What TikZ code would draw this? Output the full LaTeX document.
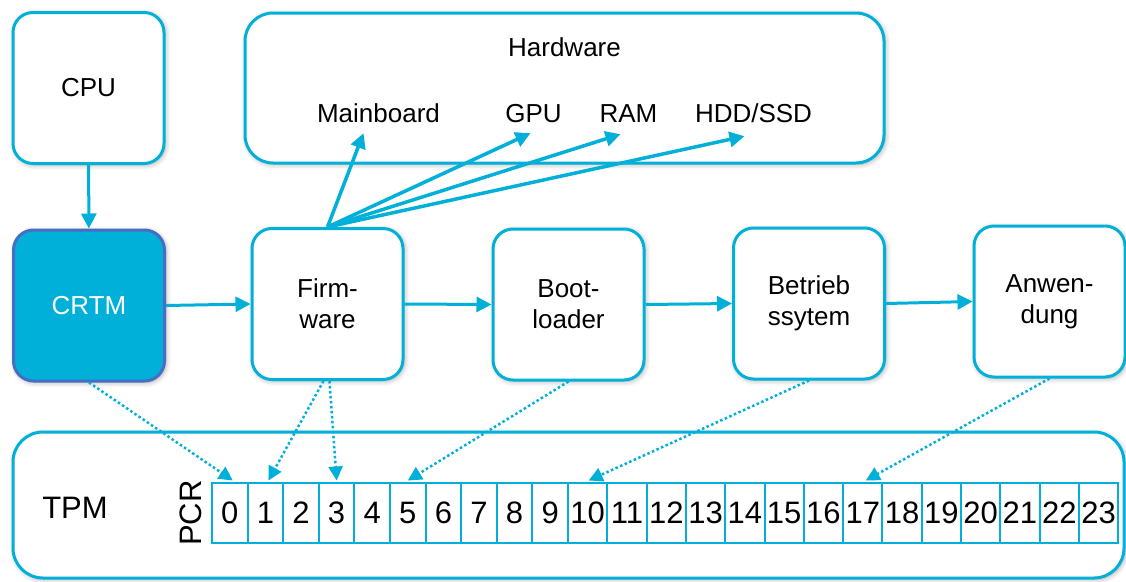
\documentclass[tikz,border=0pt]{standalone}
\usepackage{fontspec}
\setmainfont{Liberation Sans}
\usetikzlibrary{arrows.meta,calc,shadows.blur}
\definecolor{accent}{RGB}{0,176,216}
\definecolor{crtmline}{RGB}{72,110,196}
\tikzset{
  softshadow/.style={blur shadow={shadow xshift=1.5pt, shadow yshift=-1.5pt,
      shadow blur radius=5pt, shadow opacity=35}},
  box/.style={draw=accent, line width=3pt, fill=white, rounded corners=20pt,
      minimum width=151pt, minimum height=151pt, inner sep=0pt, align=center,
      font=\fontsize{26}{31}\selectfont, softshadow},
  lbl/.style={font=\fontsize{26}{31}\selectfont, inner sep=0pt},
  hwlabel/.style={font=\fontsize{26}{31}\selectfont, inner sep=0pt,
      text height=19pt, text depth=0pt, anchor=base},
  biglbl/.style={font=\fontsize{31}{31}\selectfont, inner sep=0pt},
  cell/.style={draw=accent, line width=2pt, fill=white, minimum height=60pt,
      inner sep=0pt, outer sep=0pt, anchor=west, font=\fontsize{31}{31}\selectfont},
  flow/.style={draw=accent, line width=3pt, -{Triangle[length=15pt,width=15pt]}},
  hwlink/.style={draw=accent, line width=3.5pt, -{Triangle[length=15pt,width=15pt]}},
  measure/.style={draw=accent, line width=2.5pt, dash pattern=on 2.5pt off 2.5pt,
      -{Triangle[length=14pt,width=14pt]}},
}
\begin{document}
\begin{tikzpicture}[x=1pt,y=-1pt]
\useasboundingbox (0,0) rectangle (1126,581);

% boot chain boxes
\node[box] (cpu) at (88.5,88) {CPU};
\node[box, fill=accent, draw=crtmline, text=white] (crtm) at (89,305.5) {CRTM};
\node[box] (fw)  at (327.5,304)   {Firm-\\ware};
\node[box] (bl)  at (568.5,304.5) {Boot-\\loader};
\node[box] (os)  at (809,303.5)   {Betrieb\\ssytem};
\node[box] (app) at (1049.5,301.5){Anwen-\\dung};

% hardware group
\node[box, minimum width=639pt, minimum height=150pt, rounded corners=28pt] (hw) at (564.5,88) {};
\node[lbl] (hwtitle) at (564.5,47) {Hardware};
\node[hwlabel] (mb)  at (378.5,122) {Mainboard};
\node[hwlabel] (gpu) at (533.5,122) {GPU};
\node[hwlabel] (ram) at (628.5,122) {RAM};
\node[hwlabel] (hdd) at (753.5,122) {HDD/SSD};

% TPM with its PCR bank
\node[box, minimum width=1111pt, minimum height=146pt, rounded corners=30pt] (tpm) at (568.5,505) {};
\node[biglbl] (tpmlbl) at (75,508) {TPM};
\node[biglbl, rotate=90] (pcr) at (191,513) {PCR};
\foreach \i in {0,...,23}{
  \ifnum\i<10
    \def\cw{35.6}\pgfmathsetmacro\cl{212+35.6*\i}
  \else
    \def\cw{39.3}\pgfmathsetmacro\cl{568+39.3*(\i-10)}
  \fi
  \node[cell, minimum width=\cw pt] (c\i) at (\cl,512.5) {\i};
}

% control flow
\draw[flow] (cpu) -- (crtm);
\draw[flow] (crtm.east) -- (fw.west);
\draw[flow] (fw.east) -- (bl.west);
\draw[flow] (bl.east) -- (os.west);
\draw[flow] (os.east) -- (app.west);

% firmware initialises the hardware
\draw[hwlink] (fw.north) -- ($(mb.south)+(-15,11)$);
\draw[hwlink] (fw.north) -- ($(gpu.south)+(-3,11)$);
\draw[hwlink] (fw.north) -- ($(ram.south)+(-8,12)$);
\draw[hwlink] (fw.north) -- ($(hdd.south)+(-9,14)$);

% measurements extended into the PCRs
\draw[measure] (crtm.south) -- ($(c0.north)+(3,-2)$);
\draw[measure] ($(fw.south)+(-4,0)$) -- ($(c1.north)+(3,-2)$);
\draw[measure] ($(fw.south)+(2,0)$) -- ($(c3.north)+(0,-2)$);
\draw[measure] (bl.south) -- ($(c5.north)+(0,-2)$);
\draw[measure] (os.south) -- ($(c10.north)+(1,-2)$);
\draw[measure] (app.south) -- ($(c17.north)+(3,-2)$);
\end{tikzpicture}
\end{document}
